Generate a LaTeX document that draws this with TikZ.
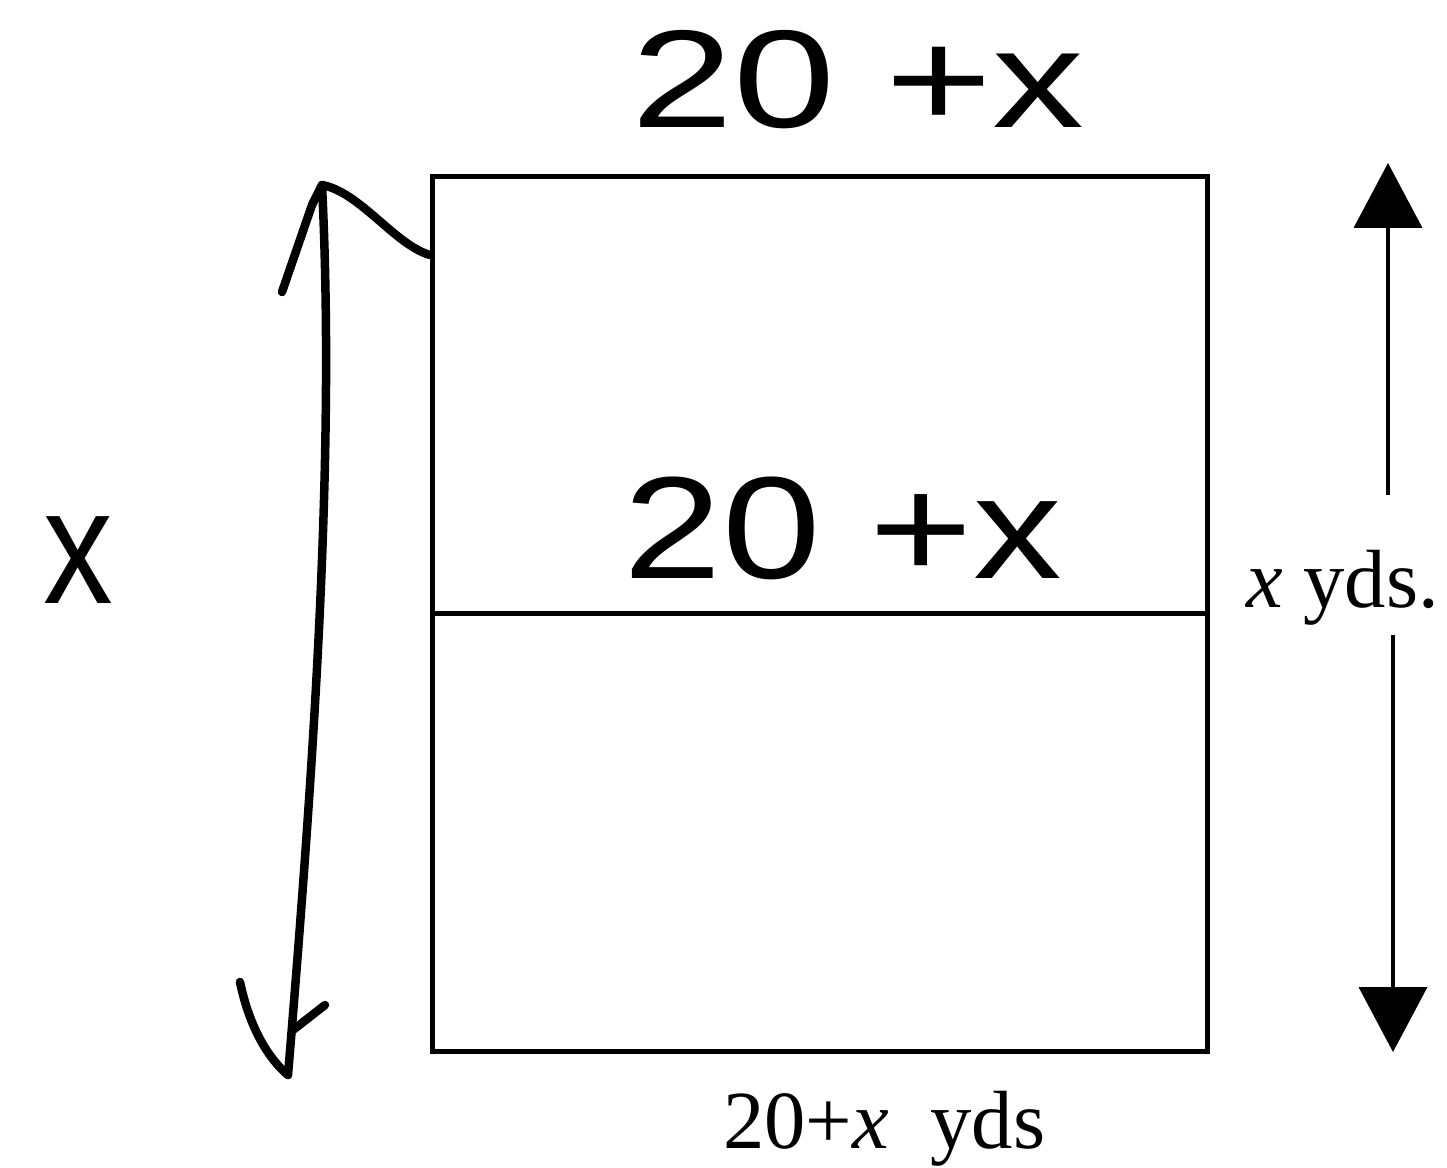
\documentclass[tikz,border=0pt]{standalone}
\usepackage{fontspec}
\setmainfont{Liberation Serif}
\newfontfamily\handfont{Liberation Sans}
\usetikzlibrary{arrows.meta}
\begin{document}
\begin{tikzpicture}[x=0.02cm,y=-0.02cm,
  fieldbox/.style={draw, line width=0.1cm, minimum width=15.52cm, minimum height=17.52cm, inner sep=0pt},
  dimarrow/.style={line width=0.08cm, -{Triangle[width=1.36cm,length=1.3cm]}},
  hand/.style={line width=0.17cm, line cap=round, line join=round},
  handtext/.style={font=\handfont\fontsize{72}{72}\selectfont, inner sep=0pt},
  printed/.style={font=\fontsize{47}{47}\selectfont, inner sep=0pt}]
\useasboundingbox (0,0) rectangle (1447,1168);
% field
\node[fieldbox] (field) at (820,614) {};
\draw[line width=0.1cm] (field.west) -- (field.east);
% right dimension arrows
\coordinate (upstart) at (1388,495);
\coordinate (uptip) at (1388,163);
\coordinate (downstart) at (1393,635);
\coordinate (downtip) at (1393,1052);
\draw[dimarrow] (upstart) -- (uptip);
\draw[dimarrow] (downstart) -- (downtip);
\node[printed, anchor=base west] (xyds) at (1246,608) {{\itshape x} yds.};
\node[printed, anchor=base west] (bottomlbl) at (723,1148) {20+{\itshape x}\ \ yds};
% handwritten annotations
\node[handtext] (hx) at (78,560) {\scalebox{1.1}[1.3]{x}};
\node[handtext] (htop) at (858,80) {\scalebox{1.45}[1.1]{20 +x}};
\node[handtext] (hmid) at (843,528) {\scalebox{1.4}[1.15]{20 +x}};
% handwritten arrow
\coordinate (ha) at (288,1075);
\coordinate (hb) at (322,185);
\coordinate (hook) at (430,255);
\draw[hand] (ha) .. controls (315,750) and (335,450) .. (hb);
\draw[hand] (282,292) -- (312,205) -- (hb);
\draw[hand] (hb) .. controls (360,192) and (395,245) .. (hook);
\draw[hand] (240,982) .. controls (250,1030) and (270,1060) .. (ha);
\draw[hand] (325,1005) -- (293,1030);
\end{tikzpicture}
\end{document}
